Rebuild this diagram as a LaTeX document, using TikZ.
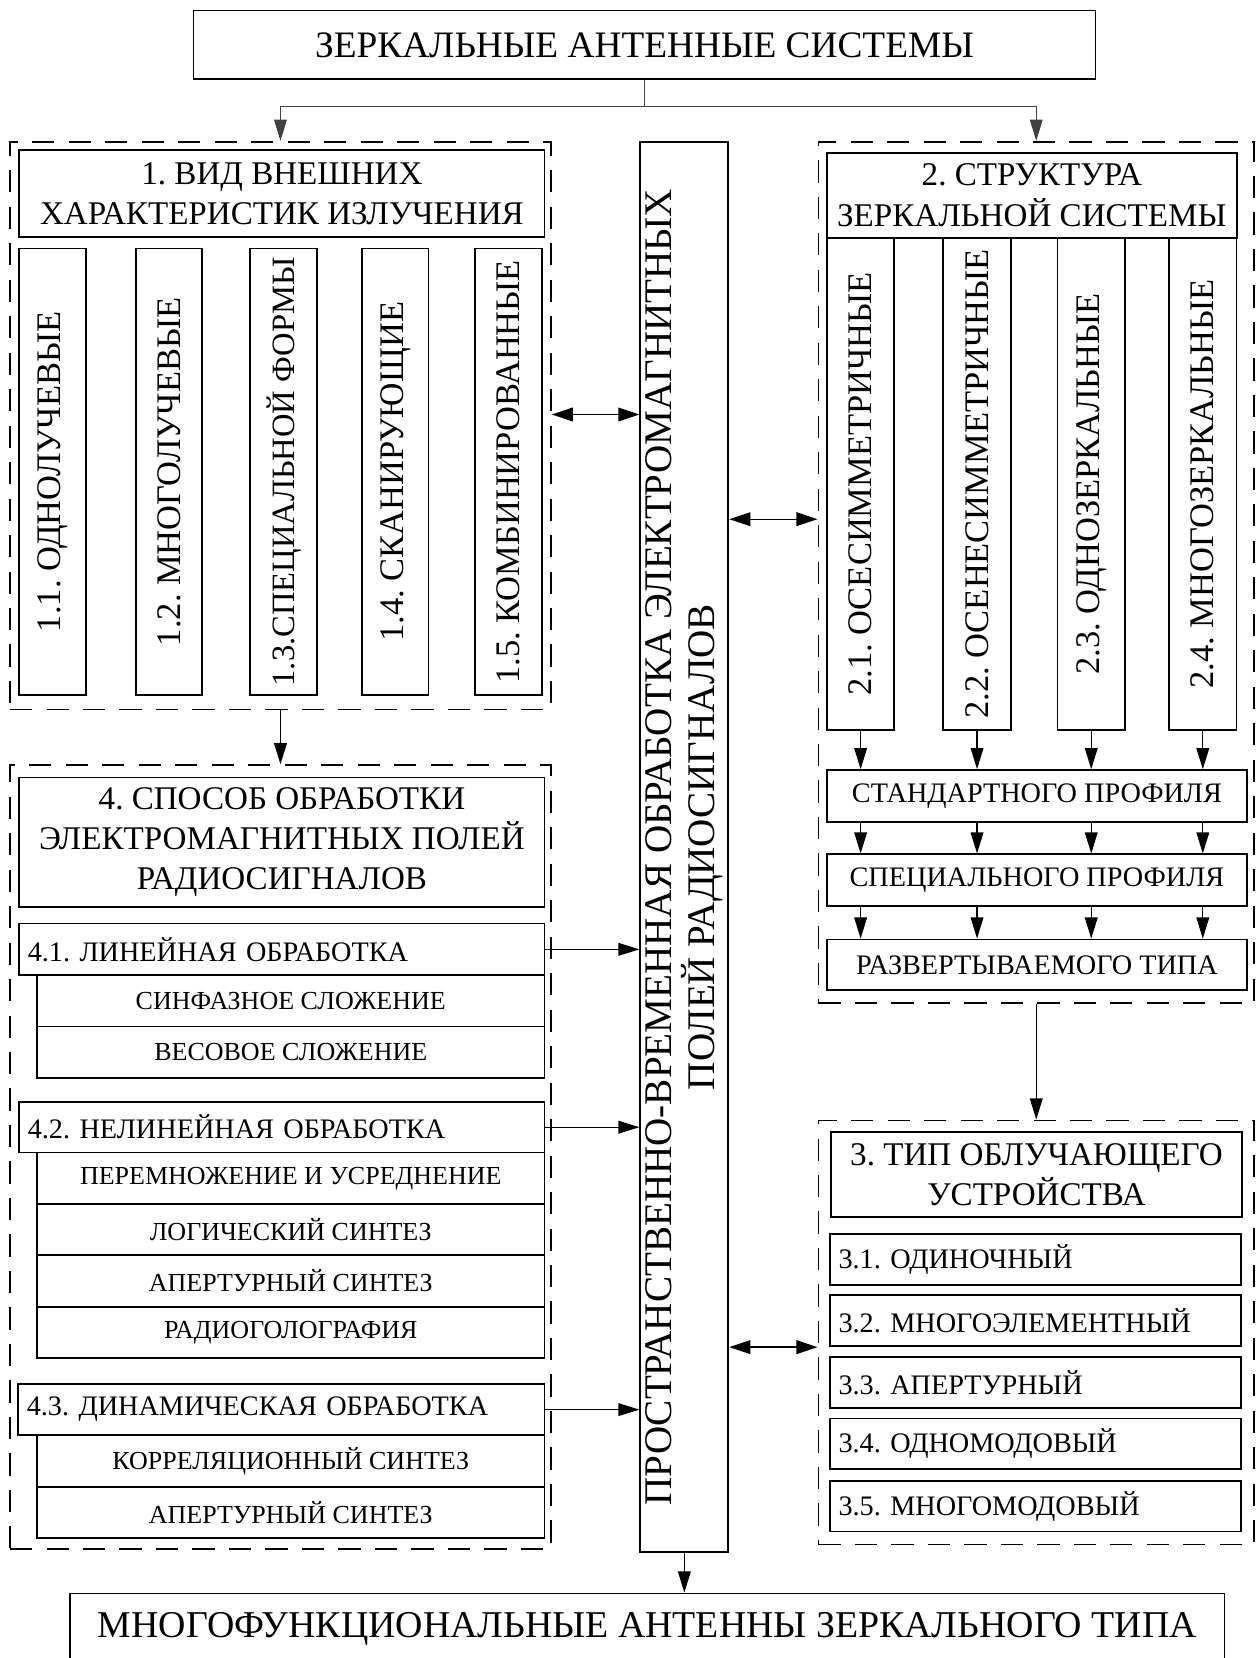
\documentclass[tikz,border=0pt]{standalone}
\usepackage{fontspec}
\setmainfont{Liberation Serif}
\usetikzlibrary{arrows.meta}
\frenchspacing

\begin{document}
\begin{tikzpicture}[x=1pt, y=-1pt,
  box/.style={draw, line width=1.7pt, inner sep=0pt, align=center},
  frame/.style={draw, line width=1.6pt, dash pattern=on 21pt off 13.5pt},
  hdr/.style={box, font=\fontsize{31.3}{38}\selectfont},
  vbox/.style={box, rotate=90, font=\fontsize{32.6}{38}\selectfont},
  lbox/.style={box, inner xsep=8pt, align=left, font=\fontsize{26.7}{30}\selectfont},
  sub/.style={box, minimum width=480pt, minimum height=48.6pt, font=\fontsize{24.6}{28}\selectfont},
  arr/.style={line width=1.3pt, -{Triangle[length=20pt,width=12pt]}},
  dbl/.style={line width=1.3pt, {Triangle[length=20pt,width=13pt]}-{Triangle[length=20pt,width=13pt]}},
  thinarr/.style={line width=0.9pt, draw=black!75, -{Triangle[length=20pt,width=12pt]}}]
\useasboundingbox (0,0) rectangle (1189,1568);

\node[box, minimum width=853pt, minimum height=65pt, font=\fontsize{35.3}{40}\selectfont] (title) at (609.5,42.5) {ЗЕРКАЛЬНЫЕ АНТЕННЫЕ СИСТЕМЫ};
\coordinate (split) at (609.5,101);

\node[frame, minimum width=511.5pt, minimum height=537pt] (fr1) at (265.25,402.5) {};
\node[frame, minimum width=511.5pt, minimum height=741.2pt] (fr4) at (265.25,1094.2) {};
\node[frame, minimum width=412pt, minimum height=814.4pt] (fr2) at (980,541.2) {};
\node[frame, minimum width=412pt, minimum height=400.9pt] (fr3) at (980,1260.05) {};

\node[hdr, minimum width=496.7pt, minimum height=82pt] (hone) at (266.65,183) {1. ВИД ВНЕШНИХ\\ХАРАКТЕРИСТИК ИЗЛУЧЕНИЯ};
\node[vbox, minimum width=422.4pt, minimum height=63pt] (v11) at (49.7,446.2) {1.1. ОДНОЛУЧЕВЫЕ};
\node[vbox, minimum width=422.4pt, minimum height=63pt] (v12) at (159.8,446.2) {1.2. МНОГОЛУЧЕВЫЕ};
\node[vbox, minimum width=422.4pt, minimum height=63pt, font=\fontsize{30.8}{38}\selectfont] (v13) at (268.3,446.2) {1.3.СПЕЦИАЛЬНОЙ ФОРМЫ};
\node[vbox, minimum width=422.4pt, minimum height=63pt] (v14) at (373.8,446.2) {1.4. СКАНИРУЮЩИЕ};
\node[vbox, minimum width=422.4pt, minimum height=63pt] (v15) at (480.8,446.2) {1.5. КОМБИНИРОВАННЫЕ};

\node[hdr, minimum width=496.7pt, minimum height=122.3pt] (hfour) at (266.65,796.45) {4. СПОСОБ ОБРАБОТКИ\\ЭЛЕКТРОМАГНИТНЫХ ПОЛЕЙ\\РАДИОСИГНАЛОВ};
\node[lbox, text width=480.7pt, minimum height=48.8pt] (n41) at (266.65,897.8) {4.1. ЛИНЕЙНАЯ ОБРАБОТКА};
\node[sub] (s411) at (275,946.5) {СИНФАЗНОЕ СЛОЖЕНИЕ};
\node[sub] (s412) at (275,995.1) {ВЕСОВОЕ СЛОЖЕНИЕ};
\node[lbox, text width=480.7pt, minimum height=48pt] (n42) at (266.65,1066) {4.2. НЕЛИНЕЙНАЯ ОБРАБОТКА};
\node[sub] (s421) at (275,1114.3) {ПЕРЕМНОЖЕНИЕ И УСРЕДНЕНИЕ};
\node[sub] (s422) at (275,1162.9) {ЛОГИЧЕСКИЙ СИНТЕЗ};
\node[sub] (s423) at (275,1211.5) {АПЕРТУРНЫЙ СИНТЕЗ};
\node[sub] (s424) at (275,1260.1) {РАДИОГОЛОГРАФИЯ};
\node[lbox, text width=481.7pt, minimum height=48.6pt] (n43) at (266.15,1333.1) {4.3. ДИНАМИЧЕСКАЯ ОБРАБОТКА};
\node[sub] (s431) at (275,1381.7) {КОРРЕЛЯЦИОННЫЙ СИНТЕЗ};
\node[sub] (s432) at (275,1430.3) {АПЕРТУРНЫЙ СИНТЕЗ};

\node[box, rotate=90, minimum width=1334pt, minimum height=83.2pt, font=\fontsize{37}{41}\selectfont] (mid) at (647.2,801) {ПРОСТРАНСТВЕННО-ВРЕМЕННАЯ ОБРАБОТКА ЭЛЕКТРОМАГНИТНЫХ\\ПОЛЕЙ РАДИОСИГНАЛОВ};

\node[hdr, minimum width=387.6pt, minimum height=80.4pt] (htwo) at (975.8,184.6) {2. СТРУКТУРА\\ЗЕРКАЛЬНОЙ СИСТЕМЫ};
\node[vbox, minimum width=465.7pt, minimum height=63.8pt] (v21) at (813.9,457.65) {2.1. ОСЕСИММЕТРИЧНЫЕ};
\node[vbox, minimum width=465.7pt, minimum height=63.8pt] (v22) at (924,457.65) {2.2. ОСЕНЕСИММЕТРИЧНЫЕ};
\node[vbox, minimum width=465.7pt, minimum height=63.8pt] (v23) at (1032,457.65) {2.3. ОДНОЗЕРКАЛЬНЫЕ};
\node[vbox, minimum width=465.7pt, minimum height=63.8pt] (v24) at (1137.5,457.65) {2.4. МНОГОЗЕРКАЛЬНЫЕ};
\node[box, minimum width=397.4pt, minimum height=48.9pt, font=\fontsize{26.7}{30}\selectfont] (pstd) at (980.7,752.75) {СТАНДАРТНОГО ПРОФИЛЯ};
\node[box, minimum width=397.4pt, minimum height=49pt, font=\fontsize{26.7}{30}\selectfont] (pspec) at (980.7,832.5) {СПЕЦИАЛЬНОГО ПРОФИЛЯ};
\node[box, minimum width=397.4pt, minimum height=47.9pt, font=\fontsize{26.7}{30}\selectfont] (pdep) at (980.7,912.45) {РАЗВЕРТЫВАЕМОГО ТИПА};

\node[hdr, minimum width=388.5pt, minimum height=80.4pt] (hthree) at (980.25,1110.8) {3. ТИП ОБЛУЧАЮЩЕГО\\УСТРОЙСТВА};
\node[lbox, text width=372.4pt, minimum height=48pt] (t31) at (979.2,1191) {3.1. ОДИНОЧНЫЙ};
\node[lbox, text width=372.4pt, minimum height=48pt] (t32) at (979.2,1249) {3.2. МНОГОЭЛЕМЕНТНЫЙ};
\node[lbox, text width=372.4pt, minimum height=48pt] (t33) at (979.2,1307.6) {3.3. АПЕРТУРНЫЙ};
\node[lbox, text width=372.4pt, minimum height=48pt] (t34) at (979.2,1365.55) {3.4. ОДНОМОДОВЫЙ};
\node[lbox, text width=372.4pt, minimum height=48pt] (t35) at (979.2,1424.35) {3.5. МНОГОМОДОВЫЙ};

\node[box, minimum width=1091.5pt, minimum height=67pt, font=\fontsize{35.8}{41}\selectfont] (bottom) at (612.25,1540.5) {МНОГОФУНКЦИОНАЛЬНЫЕ АНТЕННЫ ЗЕРКАЛЬНОГО ТИПА};

\coordinate (ya) at (0,392);
\coordinate (yb) at (0,491);
\coordinate (yc) at (0,1274);

\draw[line width=0.9pt, draw=black!75] (title.south) -- (split);
\draw[thinarr] (split) -| (fr1.north);
\draw[thinarr] (split) -| (fr2.north);
\draw[arr] (fr1.south) -- (fr4.north);
\draw[arr] (fr2.south) -- (fr3.north);
\draw[dbl] (fr1.east |- ya) -- (mid.north |- ya);
\draw[dbl] (mid.south |- yb) -- (fr2.west |- yb);
\draw[dbl] (mid.south |- yc) -- (fr3.west |- yc);
\draw[arr] (n41.east) -- (mid.north |- n41.east);
\draw[arr] (n42.east) -- (mid.north |- n42.east);
\draw[arr] (n43.east) -- (mid.north |- n43.east);
\draw[arr] (mid.west) -- (mid.west |- bottom.north);

\draw[arr] (v21.west) -- (v21.west |- pstd.north);
\draw[arr] (v22.west) -- (v22.west |- pstd.north);
\draw[arr] (v23.west) -- (v23.west |- pstd.north);
\draw[arr] (v24.west) -- (v24.west |- pstd.north);
\draw[arr] (pstd.south -| v21.west) -- (pspec.north -| v21.west);
\draw[arr] (pstd.south -| v22.west) -- (pspec.north -| v22.west);
\draw[arr] (pstd.south -| v23.west) -- (pspec.north -| v23.west);
\draw[arr] (pstd.south -| v24.west) -- (pspec.north -| v24.west);
\draw[arr] (pspec.south -| v21.west) -- (pdep.north -| v21.west);
\draw[arr] (pspec.south -| v22.west) -- (pdep.north -| v22.west);
\draw[arr] (pspec.south -| v23.west) -- (pdep.north -| v23.west);
\draw[arr] (pspec.south -| v24.west) -- (pdep.north -| v24.west);
\end{tikzpicture}
\end{document}
